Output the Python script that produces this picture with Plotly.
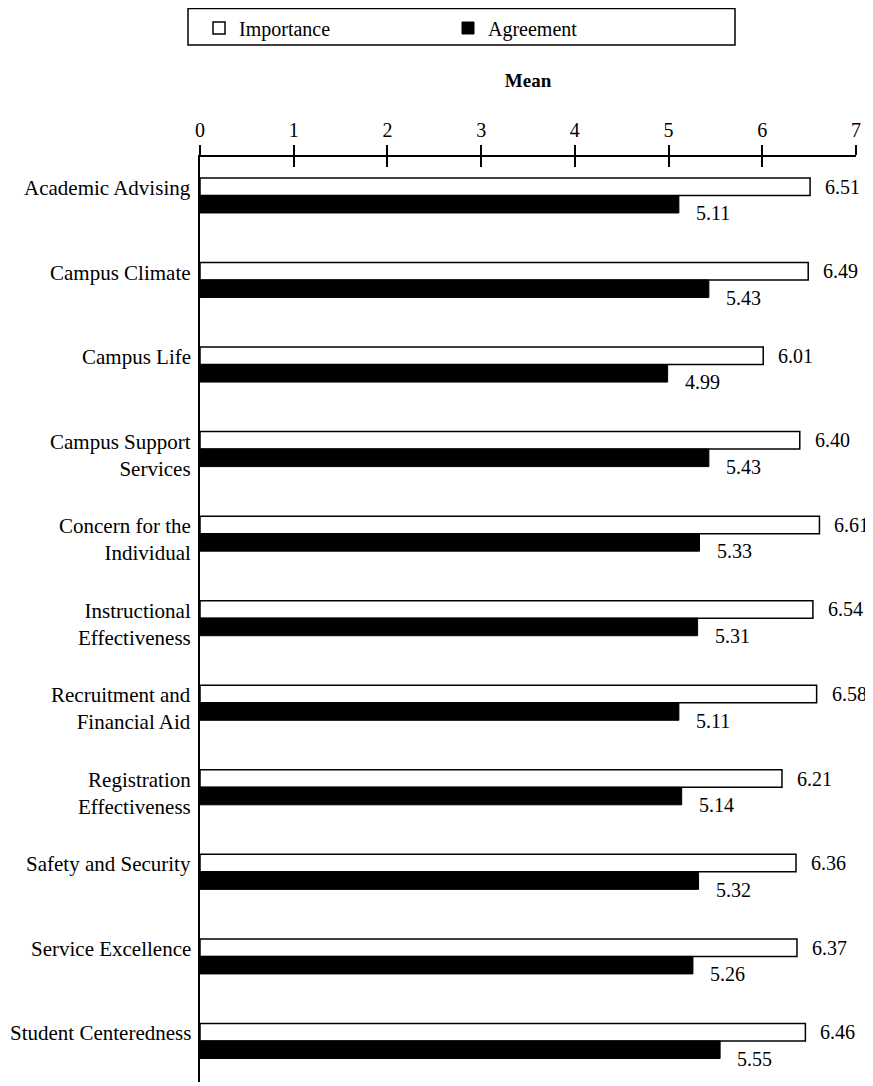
import plotly.graph_objects as go

categories = [
    "Academic Advising", "Campus Climate", "Campus Life",
    "Campus Support<br>Services", "Concern for the<br>Individual",
    "Instructional<br>Effectiveness", "Recruitment and<br>Financial Aid",
    "Registration<br>Effectiveness", "Safety and Security",
    "Service Excellence", "Student Centeredness",
]
importance = [6.51, 6.49, 6.01, 6.40, 6.61, 6.54, 6.58, 6.21, 6.36, 6.37, 6.46]
agreement = [5.11, 5.43, 4.99, 5.43, 5.33, 5.31, 5.11, 5.14, 5.32, 5.26, 5.55]
x_ticks = [0, 1, 2, 3, 4, 5, 6, 7]

FONT = "Liberation Serif, Times New Roman, serif"
BW = 0.207
idx = list(range(len(categories)))
y_imp = [i - BW / 2 for i in idx]
y_agr = [i + BW / 2 for i in idx]

W, H = 865, 1074
ML, MR, MT, MB = 192, 17, 149, 0
PW, PH = W - ML - MR, H - MT - MB


def px_x(fx):
    return (fx - ML) / PW


def px_y(fy):
    return 1 + (MT - fy) / PH


fig = go.Figure()
fig.add_trace(go.Bar(
    name="Importance", orientation="h", x=importance, y=y_imp, width=BW,
    marker=dict(color="white", line=dict(color="black", width=1.5)),
    hoverinfo="x",
))
fig.add_trace(go.Bar(
    name="Agreement", orientation="h", x=agreement, y=y_agr, width=BW,
    marker=dict(color="black", line=dict(color="black", width=1)),
    hoverinfo="x",
))
# helper trace for the inner-tick overlay axis
fig.add_trace(go.Scatter(x=[0], y=[0], xaxis="x2", mode="markers",
                         marker=dict(opacity=0), showlegend=False,
                         hoverinfo="skip"))

annotations = []
for i, (imp, agr) in enumerate(zip(importance, agreement)):
    annotations.append(dict(x=imp, y=y_imp[i], text=f"{imp:.2f}", xref="x", yref="y",
                            xanchor="left", yanchor="middle", xshift=13,
                            showarrow=False, font=dict(size=20)))
    annotations.append(dict(x=agr, y=y_agr[i], text=f"{agr:.2f}", xref="x", yref="y",
                            xanchor="left", yanchor="middle", xshift=15, yshift=-9,
                            showarrow=False, font=dict(size=20)))
    annotations.append(dict(x=0, y=i - BW, text=categories[i], xref="x", yref="y",
                            xanchor="right", yanchor="top", align="right",
                            xshift=-7, yshift=4, showarrow=False,
                            font=dict(size=21)))

y_bottom = -0.455 + PH / 84.55

fig.update_layout(
    width=W, height=H,
    margin=dict(l=ML, r=MR, t=MT, b=MB),
    paper_bgcolor="white", plot_bgcolor="white",
    font=dict(family=FONT, size=20, color="black"),
    barmode="overlay",
    showlegend=True,
    legend=dict(orientation="h", x=px_x(191), y=px_y(0.5), xanchor="left",
                yanchor="top", borderwidth=0, bgcolor="rgba(0,0,0,0)",
                entrywidth=204, entrywidthmode="pixels", font=dict(size=20),
                traceorder="normal"),
    shapes=[dict(type="rect", xref="paper", yref="paper",
                 x0=px_x(180), x1=px_x(727), y0=px_y(37), y1=px_y(0.5),
                 line=dict(color="black", width=1.5), fillcolor="rgba(0,0,0,0)")],
    xaxis=dict(side="top", range=[0, 7], tickvals=x_ticks, ticks="outside",
               ticklen=10, tickwidth=2, tickcolor="black", showline=True,
               linewidth=2, linecolor="black", showgrid=False, zeroline=False,
               tickfont=dict(size=20),
               title=dict(text="<b>Mean</b>", standoff=26, font=dict(size=19))),
    xaxis2=dict(overlaying="x", side="top", range=[0, 7], tickvals=x_ticks,
                ticks="inside", ticklen=10, tickwidth=2, tickcolor="black",
                showticklabels=False, showgrid=False, zeroline=False,
                showline=False, matches="x"),
    yaxis=dict(range=[y_bottom, -0.455], showticklabels=False, ticks="",
               showline=True, linewidth=2, linecolor="black", showgrid=False,
               zeroline=False),
    annotations=annotations,
)

fig.write_html("out.html")
